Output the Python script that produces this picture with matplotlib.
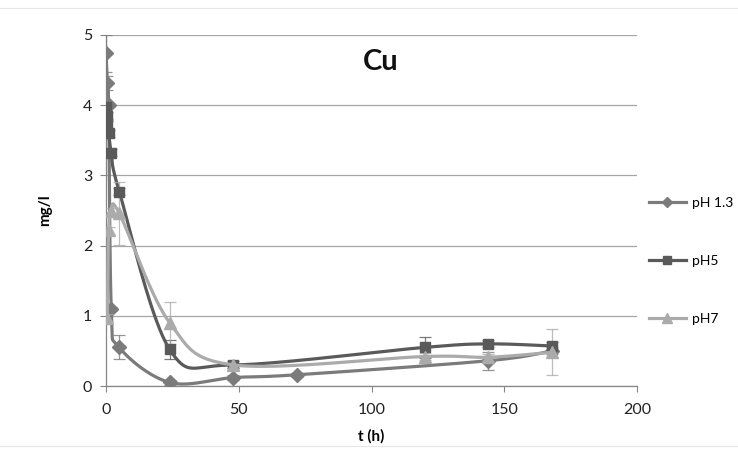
import numpy as np
import matplotlib
matplotlib.use("Agg")
import matplotlib.pyplot as plt
from matplotlib.lines import Line2D

plt.rcParams['font.family'] = ['Lato', 'DejaVu Sans']

# ---- data ----
t_ph13 = [0, 0.5, 1, 2, 5, 24, 48, 72, 144, 168]
v_ph13 = [4.74, 4.32, 4.0, 1.1, 0.55, 0.05, 0.12, 0.16, 0.36, 0.50]
e_ph13 = [0.26, 0.10, 0.03, 0.03, 0.17, 0.03, 0.03, 0.03, 0.13, 0.05]

t_ph5 = [0, 0.25, 0.5, 1, 2, 5, 24, 48, 120, 144, 168]
v_ph5 = [3.98, 3.85, 3.72, 3.60, 3.32, 2.77, 0.52, 0.30, 0.55, 0.60, 0.57]
e_ph5 = [0.05, 0.05, 0.05, 0.05, 0.05, 0.05, 0.13, 0.05, 0.15, 0.05, 0.05]

t_ph7 = [0.5, 1, 2, 5, 24, 48, 120, 144, 168]
v_ph7 = [0.97, 2.22, 2.49, 2.46, 0.90, 0.30, 0.42, 0.41, 0.48]
e_ph7 = [0.05, 0.05, 0.05, 0.45, 0.30, 0.05, 0.05, 0.05, 0.33]

labels = ['pH 1.3', 'pH5', 'pH7']
colors = ['#7b7b7b', '#5a5a5a', '#ababab']
markers = ['D', 's', '^']
msizes = [7, 7.5, 8.5]

xticks = [0, 50, 100, 150, 200]
yticks = [0, 1, 2, 3, 4, 5]

W, H = 738, 449
fig = plt.figure(figsize=(W / 100, H / 100), dpi=100)
ax = fig.add_axes([106 / W, 1 - 386 / H, (637 - 106) / W, (386 - 35) / H])
ax.set_xlim(0, 200)
ax.set_ylim(0, 5)

# Excel-like smoothing (Catmull-Rom Bezier in display-proportional space)
sx, sy = 531 / 200.0, 351 / 5.0


def smooth(x, y, n=40):
    P = np.column_stack([np.asarray(x, float) * sx, np.asarray(y, float) * sy])
    out = []
    for i in range(len(P) - 1):
        p0 = P[i - 1] if i > 0 else P[i]
        p1, p2 = P[i], P[i + 1]
        p3 = P[i + 2] if i + 2 < len(P) else P[i + 1]
        c1 = p1 + (p2 - p0) / 6.0
        c2 = p2 - (p3 - p1) / 6.0
        s = np.linspace(0, 1, n)[:, None]
        seg = ((1 - s) ** 3) * p1 + 3 * ((1 - s) ** 2) * s * c1 + 3 * (1 - s) * s ** 2 * c2 + s ** 3 * p2
        out.append(seg if i == 0 else seg[1:])
    C = np.vstack(out)
    return C[:, 0] / sx, C[:, 1] / sy


series = [(t_ph13, v_ph13, e_ph13), (t_ph5, v_ph5, e_ph5), (t_ph7, v_ph7, e_ph7)]
for i in range(3):
    t, v, e = series[i]
    xs, ys = smooth(t, v)
    ax.errorbar(t, v, yerr=e, fmt='none', ecolor=colors[i], elinewidth=0.9,
                capsize=4, capthick=0.9, alpha=0.8, zorder=3 + i)
    ax.plot(xs, ys, color=colors[i], lw=2.3, zorder=4 + i, solid_capstyle='round')
    ax.plot(t, v, linestyle='none', marker=markers[i], ms=msizes[i],
            color=colors[i], zorder=5 + i)

ax.set_xticks(xticks)
ax.set_yticks(yticks)
ax.set_xticklabels([str(x) for x in xticks])
ax.set_yticklabels([str(y) for y in yticks])
ax.tick_params(axis='both', labelsize=11.5, colors='#868686', labelcolor='#222222',
               length=4, width=0.8, direction='out')
ax.tick_params(axis='x', pad=8)
ax.tick_params(axis='y', pad=6)
ax.grid(axis='y', color='#a6a6a6', lw=0.9)
ax.set_axisbelow(True)
for s in ['top', 'right']:
    ax.spines[s].set_visible(False)
for s in ['left', 'bottom']:
    ax.spines[s].set_color('#868686')
    ax.spines[s].set_linewidth(0.9)

ax.text(0.517, 0.922, 'Cu', transform=ax.transAxes, ha='center', va='center',
        fontsize=21, fontweight='bold', color='#111111')
ax.set_xlabel('t (h)', fontsize=11, fontweight='bold', labelpad=9)
ax.set_ylabel('mg/l', fontsize=11, fontweight='bold', labelpad=22)

handles = [Line2D([], [], color=colors[i], lw=2.3, marker=markers[i],
                  ms=msizes[i] * 0.8) for i in range(3)]
fig.legend(handles, labels, loc='center left', bbox_to_anchor=(636 / W, 1 - 261 / H),
           frameon=False, fontsize=10, labelspacing=3.3, handlelength=2.7,
           handletextpad=0.4)

# faint chart border lines
fig.add_artist(Line2D([0, 1], [1 - 8 / H, 1 - 8 / H], color='#e6e6e6', lw=0.8))
fig.add_artist(Line2D([0, 1], [1 - 446 / H, 1 - 446 / H], color='#e6e6e6', lw=0.8))

fig.savefig('out.png', dpi=100, facecolor='white')
